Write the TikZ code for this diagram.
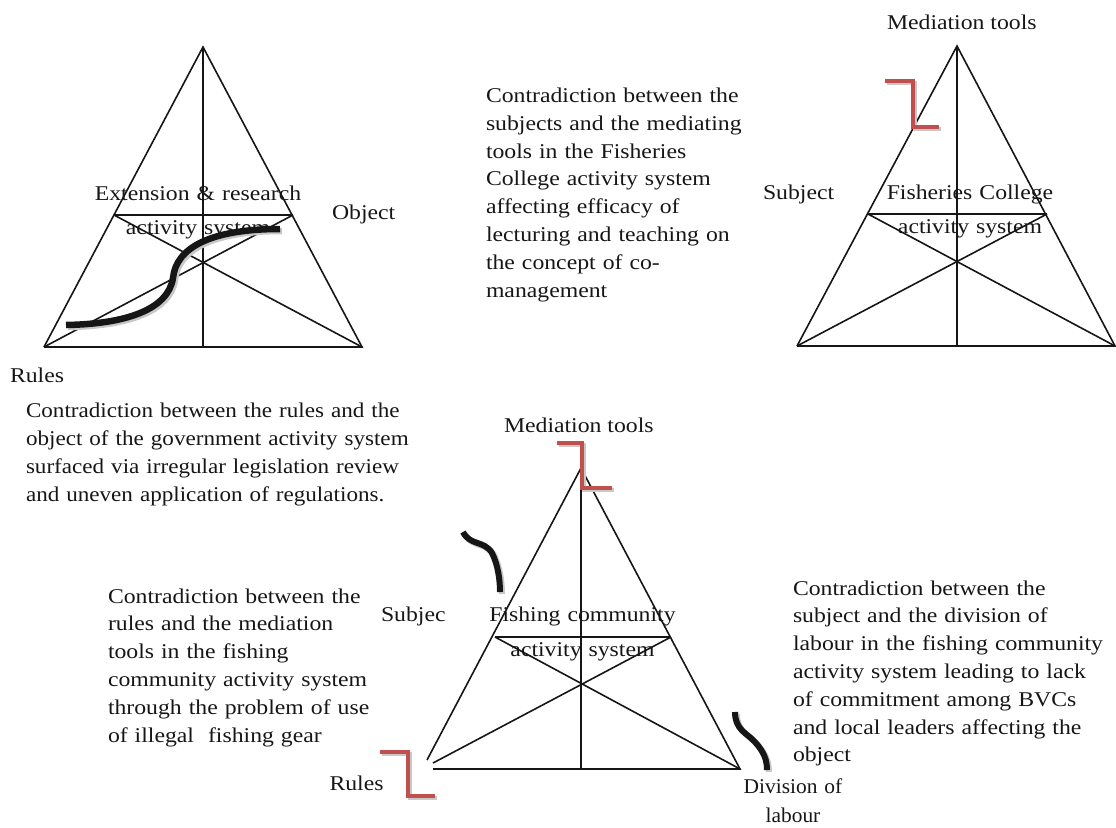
\documentclass[tikz,border=0pt]{standalone}
\usepackage{fontspec}
\setmainfont{Liberation Serif}
\newfontfamily\serifwide{Liberation Serif}[FakeStretch=1.13]
\newfontfamily\serifmid{Liberation Serif}[FakeStretch=1.10]
\newfontfamily\serifnarrow{Liberation Serif}[FakeStretch=1.02]
\definecolor{ink}{RGB}{22,22,22}
\definecolor{tension}{RGB}{192,80,77}
\definecolor{shade}{RGB}{200,200,200}

\begin{document}
\begin{tikzpicture}[x=1pt,y=-1pt,
  txt/.style={font=\serifwide\fontsize{21}{27.8}\selectfont, text=ink, inner sep=0pt, outer sep=0pt},
  para/.style={txt, align=left, anchor=base west, text width=#1},
  inlabel/.style={txt, font=\serifwide\fontsize{21}{34}\selectfont, align=center, anchor=base, text width=240pt},
  word/.style={txt, anchor=base west},
  edge/.style={draw=ink, line width=1.6pt},
  spine/.style={draw=ink, line width=2.6pt},
  redstep/.style={draw=tension, line width=4.5pt, line join=miter,
    preaction={draw=shade, line width=4.5pt, transform canvas={shift={(2,2)}}}},
  blackwave/.style={draw=ink, line width=#1,
    preaction={draw=shade, line width=#1, transform canvas={shift={(2,2)}}}},
]
\useasboundingbox (0,0) rectangle (1116,827);

% ---------- texts ----------
\node[para=300pt] (t_college) at (486,102.5) {Contradiction between the\\ subjects and the mediating\\ tools in the Fisheries\\ College activity system\\ affecting efficacy of\\ lecturing and teaching on\\ the concept of co-\\ management};

\node[para=430pt, font=\serifmid\fontsize{21}{28}\selectfont] (t_gov) at (26,417.5) {Contradiction between the rules and the\\ object of the government activity system\\ surfaced via irregular legislation review\\ and uneven application of regulations.};

\node[para=300pt] (t_rules) at (108,603) {Contradiction between the\\ rules and the mediation\\ tools in the fishing\\ community activity system\\ through the problem of use\\ of illegal~ fishing gear};

\node[para=330pt] (t_labour) at (793,595) {Contradiction between the\\ subject and the division of\\ labour in the fishing community\\ activity system leading to lack\\ of commitment among BVCs\\ and local leaders affecting the\\ object};

% labels of the extension & research system
\node[inlabel] (n_ext) at (198,200) {Extension \& research\\ activity system};
\node[word] (n_obj1) at (332,219) {Object};
\node[word] (n_rul1) at (10,382.5) {Rules};

% labels of the Fisheries College system
\node[word] (n_med2) at (887,29.3) {Mediation tools};
\node[word] (n_sub2) at (763,199.3) {Subject};
\node[inlabel] (n_col) at (970,199.5) {Fisheries College\\ activity system};

% labels of the fishing community system
\node[word] (n_med3) at (504,432.5) {Mediation tools};
\node[word] (n_sub3) at (381,621.7) {Subjec};
\node[inlabel, font=\serifwide\fontsize{21}{35}\selectfont] (n_fish) at (582.5,621.7) {Fishing community\\ activity system};
\node[word] (n_rul3) at (329.5,790.7) {Rules};
\node[txt, font=\serifnarrow\fontsize{21}{29.5}\selectfont, align=center, anchor=base, text width=140pt] (n_div) at (793,793.3) {Division of\\ labour};

% ---------- triangle 1: extension & research ----------
\coordinate (A1) at (203,47);
\coordinate (L1) at (44,347);
\coordinate (R1) at (362,347);
\coordinate (P1) at (114,215);
\coordinate (Q1) at (293,215);
\coordinate (B1) at (203,347);
\draw[edge] (L1) -- (A1) -- (R1) -- (L1);
\draw[edge] (P1) -- (Q1);
\draw[edge] (L1) -- (Q1);
\draw[edge] (R1) -- (P1);
\draw[spine] (A1) -- (B1);

% ---------- triangle 2: Fisheries College ----------
\coordinate (A2) at (957,46);
\coordinate (L2) at (797,346);
\coordinate (R2) at (1115,346);
\coordinate (P2) at (868,214);
\coordinate (Q2) at (1047,214);
\coordinate (B2) at (957,346);
\draw[edge] (L2) -- (A2) -- (R2) -- (L2);
\draw[edge] (P2) -- (Q2);
\draw[edge] (L2) -- (Q2);
\draw[edge] (R2) -- (P2);
\draw[edge, line width=1.9pt] (A2) -- (B2);

% ---------- triangle 3: fishing community ----------
\coordinate (A3) at (581,468);
\coordinate (L3s) at (427,760);
\coordinate (L3d) at (433,763);
\coordinate (L3b) at (433,769);
\coordinate (R3) at (740,769);
\coordinate (P3) at (495,637);
\coordinate (Q3) at (671,637);
\coordinate (B3) at (581,769);
\draw[edge] (L3s) -- (A3) -- (R3) -- (L3b);
\draw[edge] (P3) -- (Q3);
\draw[edge] (L3d) -- (Q3);
\draw[edge] (R3) -- (P3);
\draw[spine] (A3) -- (B3);

% ---------- contradiction marks ----------
% rules vs object (government)
\draw[blackwave=6.5pt] (66,325) .. controls (125,324) and (168,310) .. (173,278)
  .. controls (176,248) and (210,229) .. (280,229);
% subjects vs mediating tools (college)
\draw[redstep] (885,81) -- (913,81) -- (913,127) -- (939,127);
% rules vs mediation tools (community)
\draw[redstep] (557,443) -- (582,443) -- (582,488) -- (612,488);
\draw[redstep] (380,752) -- (408,752) -- (408,796) -- (435,796);
% subject vs division of labour (community)
\draw[blackwave=6pt] (463,532) .. controls (470,546) and (484,540) .. (492,553)
  .. controls (498,565) and (500,580) .. (500,592);
\draw[blackwave=6pt] (735,712) .. controls (735,730) and (747,733) .. (755,742)
  .. controls (764,752) and (767,760) .. (767,770);
\end{tikzpicture}
\end{document}
